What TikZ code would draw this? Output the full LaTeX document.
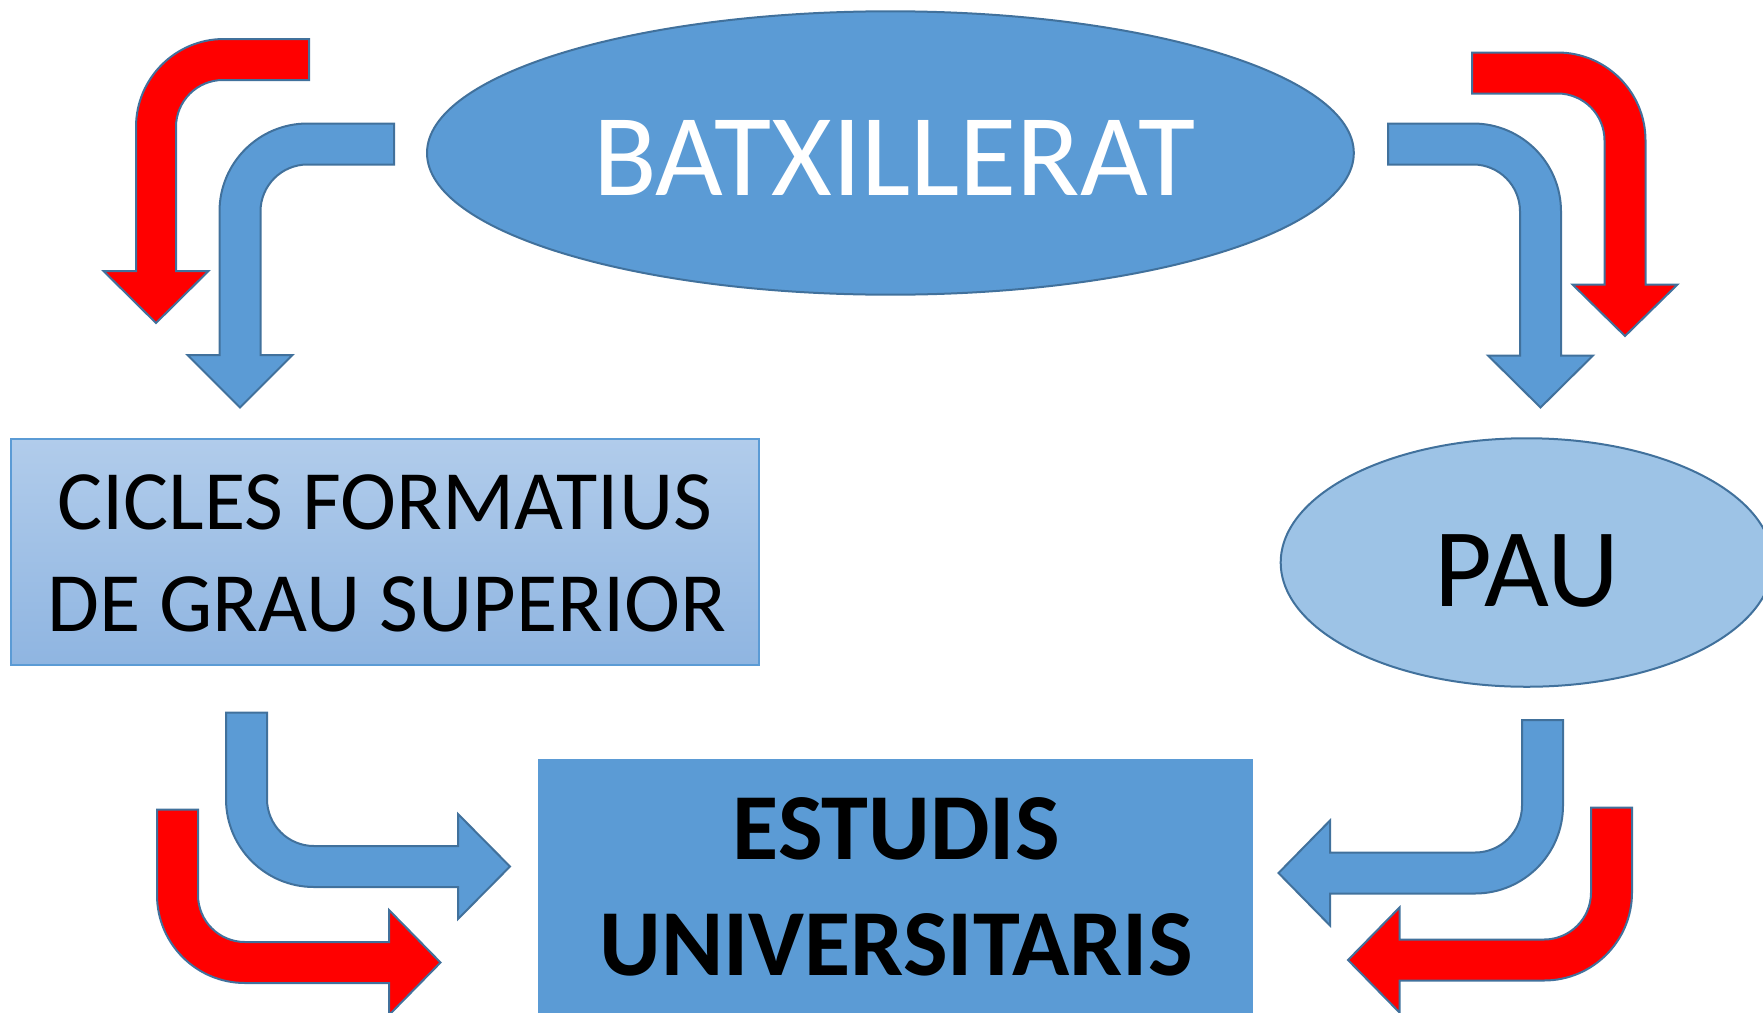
\documentclass[tikz,border=0pt]{standalone}
\usepackage{fontspec}
\setmainfont{Carlito}
\usetikzlibrary{shapes.geometric,calc}
\definecolor{mblue}{HTML}{5B9BD5}
\definecolor{dblue}{HTML}{41719C}
\definecolor{lblue}{HTML}{9DC3E6}
\definecolor{btop}{HTML}{B1CCEB}
\definecolor{bbot}{HTML}{8FB5E1}
\newcommand\qa[3]{(#1) .. controls ($(#1)!0.5523!(#2)$) and ($(#3)!0.5523!(#2)$) .. (#3)}
\tikzset{
  bluearrow/.style={fill=mblue, draw=dblue, line width=2pt, line join=miter},
  redarrow/.style={fill=red, draw=dblue, line width=2pt, line join=miter},
  txt/.style={anchor=base, inner sep=0pt, text=black},
}
\begin{document}
\begin{tikzpicture}[x=1pt,y=-1pt]
\useasboundingbox (0,0) rectangle (1763,1012);
\clip (0,0) rectangle (1763,1012);
% shapes
\node[ellipse, fill=mblue, draw=dblue, line width=2pt, minimum width=926.8pt, minimum height=283.4pt, inner sep=0pt] (batx) at (890.4,153) {};
\node[rectangle, top color=btop, bottom color=bbot, draw=mblue, line width=2pt, minimum width=748pt, minimum height=226pt, inner sep=0pt] (cicles) at (384.9,552) {};
\node[ellipse, fill=lblue, draw=dblue, line width=2pt, minimum width=492pt, minimum height=248.5pt, inner sep=0pt] (pau) at (1526.7,562.5) {};
\node[rectangle, fill=mblue, draw=mblue, line width=1pt, minimum width=714pt, minimum height=300pt, inner sep=0pt, anchor=north west] (estudis) at (537.5,758.5) {};
% texts
\node[txt, text=white, font=\fontsize{117}{140}\selectfont] (batxt) at (894.6,195.7) {BATXILLERAT};
\node[txt, font=\fontsize{84.5}{101}\selectfont] (cic1) at (384.8,529.3) {CICLES FORMATIUS};
\node[txt, font=\fontsize{84.5}{101}\selectfont] (cic2) at (386.8,631.7) {DE GRAU SUPERIOR};
\node[txt, font=\fontsize{112}{134}\selectfont] (paut) at (1526.7,606) {PAU};
\node[txt, font=\bfseries\fontsize{94.5}{113}\selectfont] (est1) at (896.2,859.3) {ESTUDIS};
\node[txt, font=\bfseries\fontsize{94.5}{113}\selectfont] (est2) at (896,975) {UNIVERSITARIS};
% top-left red
\path[redarrow] (309,39) -- \qa{224,39}{136,39}{136,127} -- (136,271) -- (103.5,271) -- (156,323) -- (208.5,271) -- (176,271) -- \qa{176,127}{176,80}{223,80} -- (309,80) -- cycle;
% top-left blue
\path[bluearrow] (394,123.5) -- \qa{307.5,123.5}{219.5,123.5}{219.5,211.5} -- (219.5,355) -- (187.5,355) -- (240,407.5) -- (292.5,355) -- (260.5,355) -- \qa{260.5,211.5}{260.5,164.5}{307.5,164.5} -- (394,164.5) -- cycle;
% top-right red
\path[redarrow] (1472,52.5) -- \qa{1557.5,52.5}{1645.5,52.5}{1645.5,140.5} -- (1645.5,284.5) -- (1677.5,284.5) -- (1625,336) -- (1572.5,284.5) -- (1604.5,284.5) -- \qa{1604.5,140.5}{1604.5,93.5}{1557.5,93.5} -- (1472,93.5) -- cycle;
% top-right blue
\path[bluearrow] (1388,123.5) -- \qa{1473,123.5}{1561,123.5}{1561,211.5} -- (1561,355.5) -- (1593,355.5) -- (1540.5,407.5) -- (1488,355.5) -- (1520,355.5) -- \qa{1520,211.5}{1520,164.5}{1473,164.5} -- (1388,164.5) -- cycle;
% bottom-left blue
\path[bluearrow] (226,712.5) -- \qa{226,799}{226,887}{314,887} -- (458,887) -- (458,919) -- (510,866.5) -- (458,814) -- (458,846) -- \qa{314,846}{267,846}{267,799} -- (267,712.5) -- cycle;
% bottom-left red
\path[redarrow] (157,809.5) -- \qa{157,895}{157,983}{245,983} -- (389,983) -- (389,1015) -- (440.5,962.5) -- (389,910) -- (389,942) -- \qa{245,942}{198,942}{198,895} -- (198,809.5) -- cycle;
% bottom-right blue
\path[bluearrow] (1563,720) -- \qa{1563,805.5}{1563,893.5}{1475,893.5} -- (1330,893.5) -- (1330,925.5) -- (1278.5,873) -- (1330,820.5) -- (1330,852.5) -- \qa{1475,852.5}{1522,852.5}{1522,805.5} -- (1522,720) -- cycle;
% bottom-right red
\path[redarrow] (1632,807.5) -- \qa{1632,892.5}{1632,980.5}{1544,980.5} -- (1399.5,980.5) -- (1399.5,1012.5) -- (1348,960) -- (1399.5,907.5) -- (1399.5,939.5) -- \qa{1544,939.5}{1591,939.5}{1591,892.5} -- (1591,807.5) -- cycle;
\end{tikzpicture}
\end{document}
